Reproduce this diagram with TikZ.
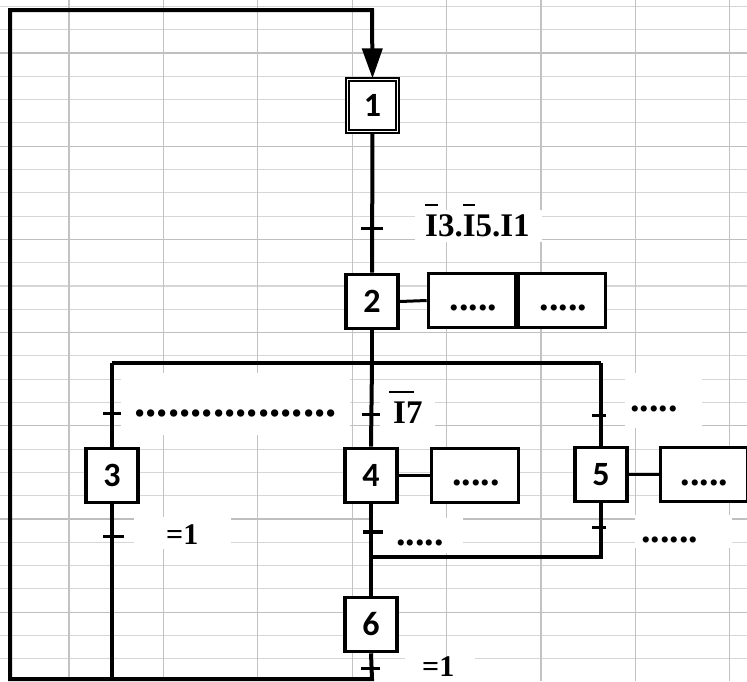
\documentclass[tikz,border=0pt]{standalone}
\usepackage{fontspec}
\setmainfont{Liberation Serif}
\newfontfamily\stepfont{Carlito}
\usetikzlibrary{arrows.meta}
\newcommand{\ovl}[3]{\makebox[0pt][l]{\hspace*{#1}\raisebox{#2}{\rule{#3}{2.2pt}}}}
\tikzset{
  stepbox/.style={draw, line width=3.6pt, minimum width=52pt, minimum height=54pt, inner sep=0pt,
    fill=white, font=\stepfont\bfseries\fontsize{34}{34}\selectfont},
  initbox/.style={draw, line width=2.2pt, double=white, double distance=1.3pt,
    minimum width=50pt, minimum height=52pt, inner sep=0pt, fill=white,
    font=\stepfont\bfseries\fontsize{34}{34}\selectfont},
  actbox/.style={draw, line width=3.6pt, minimum width=87pt, minimum height=54pt, inner sep=0pt, fill=white},
  flow/.style={line width=4pt},
  link/.style={line width=3pt},
  tickl/.style={line width=3pt},
  dotsl/.style={inner sep=0pt, font=\bfseries\fontsize{38}{38}\selectfont},
  dotsw/.style={inner sep=0pt, font=\bfseries\fontsize{45}{45}\selectfont},
  lbl/.style={inner sep=0pt, anchor=base west, font=\bfseries\fontsize{33}{33}\selectfont},
  lbls/.style={inner sep=0pt, anchor=base west, font=\bfseries\fontsize{30}{30}\selectfont},
  gridlight/.style={line width=1.1pt, draw=black!16},
  griddark/.style={line width=1.3pt, draw=black!25},
  gridv/.style={line width=1.3pt, draw=black!24},
}
\begin{document}
\begin{tikzpicture}[x=1pt,y=-1pt]
\useasboundingbox (0,0) rectangle (747,681);
\clip (0,0) rectangle (747,681);
\fill[white] (0,0) rectangle (747,681);
% spreadsheet grid
\foreach \k in {-2,...,27} \draw[gridlight] (0,{53+23.3*\k}) -- (747,{53+23.3*\k});
\foreach \k in {0,4,...,24} \draw[griddark] (0,{53+23.3*\k}) -- (747,{53+23.3*\k});
\foreach \k in {0,...,7} \draw[gridv] ({69+94.4*\k},0) -- ({69+94.4*\k},681);
% white label backgrounds
\fill[white] (415,210) rectangle (542,242);
\fill[white] (121,373) rectangle (350,435);
\fill[white] (380,395) rectangle (435,429);
\fill[white] (625,373) rectangle (702,428);
\fill[white] (134,517) rectangle (231,549);
\fill[white] (373,518) rectangle (463,553);
\fill[white] (635,515) rectangle (732,548);
\fill[white] (405,657) rectangle (475,681);
% coordinates
\coordinate (top) at (372,10);
\coordinate (tl) at (10,10);
\coordinate (bl) at (10,679);
\coordinate (bm) at (372,679);
\coordinate (b3) at (112,679);
\coordinate (dv) at (372,363);
\coordinate (dv3) at (112,363);
\coordinate (dv5) at (601,363);
\coordinate (cv) at (372,557);
\coordinate (cv5) at (601,557);
% steps
\node[initbox] (s1) at (372.5,105.5) {1};
\node[stepbox] (s2) at (372,301.5) {2};
\node[stepbox] (s3) at (112,475.5) {3};
\node[stepbox] (s4) at (371,475.5) {4};
\node[stepbox] (s5) at (601,474.5) {5};
\node[stepbox] (s6) at (371,624.5) {6};
% actions
\node[actbox] (a2a) at (472,300.5) {};
\node[actbox] (a2b) at (562,300.5) {};
\node[actbox] (a4) at (475,475.5) {};
\node[actbox] (a5) at (704,474.5) {};
\node[dotsl] at (473.5,308) {.....};
\node[dotsl] at (563.5,308) {.....};
\node[dotsl] at (476,483) {.....};
\node[dotsl] at (704.5,483) {.....};
% connectors
\draw[flow, -{Triangle[length=30pt,width=20pt]}] (s6.south) -- (bm) -- (bl) -- (tl) -- (top) -- (s1.north);
\draw[flow] (s1.south) -- (s2.north);
\draw[flow] (s2.south) -- (dv);
\draw[flow] (dv3) -- (dv5);
\draw[flow] (dv) -- (s4.north);
\draw[flow] (dv3) -- (s3.north);
\draw[flow] (dv5) -- (s5.north);
\draw[flow] (s3.south) -- (b3);
\draw[flow] (s4.south) -- (s6.north);
\draw[flow] (s5.south) -- (cv5) -- (cv);
\draw[link] (s2.east) -- (a2a.west);
\draw[link] (s4.east) -- (a4.west);
\draw[link] (s5.east) -- (a5.west);
% transitions
\draw[tickl] (361,228) -- (383,228);
\draw[tickl] (103,413) -- (121,413);
\draw[tickl] (362,414) -- (380,414);
\draw[tickl] (592,415) -- (606,415);
\draw[tickl] (103,536) -- (124,536);
\draw[line width=3.6pt] (363,532) -- (383,532);
\draw[tickl] (592,527) -- (606,527);
\draw[tickl] (361,668) -- (380,668);
% transition labels
\node[lbl] (c1) at (425,236) {\ovl{0pt}{0.9em}{0.38em}I3.\ovl{0pt}{0.9em}{0.38em}I5.I1};
\node[dotsw] (c3a) at (235.5,413) {..................};
\node[lbl] (c4a) at (393,423) {\ovl{-4pt}{0.9em}{25pt}I7};
\node[dotsl] (c5a) at (654,409) {.....};
\node[lbls] (c3b) at (166,544) {=1};
\node[dotsl] (c4b) at (420,543) {.....};
\node[dotsl] (c5b) at (669.5,540) {......};
\node[lbls] (c6) at (422,676) {=1};
\end{tikzpicture}
\end{document}
